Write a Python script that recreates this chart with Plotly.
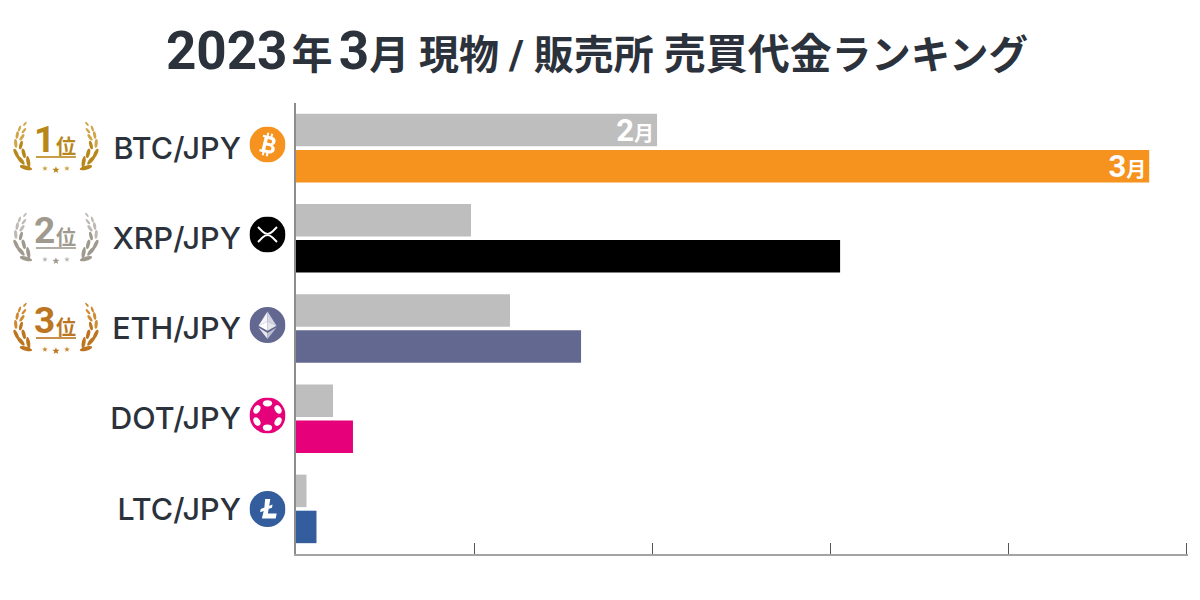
import base64, math
import plotly.graph_objects as go

categories = ["BTC/JPY", "XRP/JPY", "ETH/JPY", "DOT/JPY", "LTC/JPY"]
feb_values = [2.028, 0.983, 1.202, 0.208, 0.059]
mar_values = [4.792, 3.056, 1.601, 0.32, 0.115]
mar_colors = ["#f6921e", "#000000", "#636890", "#e6007a", "#345d9d"]
feb_labels = ['2<span style="font-size:20px">月</span>', "", "", "", ""]
mar_labels = ['3<span style="font-size:20px">月</span>', "", "", "", ""]
rank_labels = ["1", "2", "3"]

W, H = 1200, 600
L, T, B = 296, 103, 554
X_MAX = 5.01
R = L + 178 * X_MAX
INK = "#2b323b"
JP = "Noto Sans CJK JP"


def px(x):
    return (x - L) / (R - L)


def py(y):
    return (B - y) / (B - T)


def uri(svg):
    return "data:image/svg+xml;base64," + base64.b64encode(svg.encode()).decode()


def star(cx, cy, r):
    pts = []
    for i in range(10):
        a = -math.pi / 2 + i * math.pi / 5
        rr = r if i % 2 == 0 else r * 0.42
        pts.append(f"{cx + rr * math.cos(a):.2f},{cy + rr * math.sin(a):.2f}")
    return " ".join(pts)


LEAVES = [(14, 46.7, 15, 6.4, 2.1), (16.3, 40.7, 80, 5.8, 1.9), (8.7, 39, 50, 5.8, 2.0),
          (11.8, 32.3, 75, 4.8, 1.8), (4.2, 32.3, 65, 5.0, 1.8), (9, 24, 105, 4.4, 1.6),
          (3.8, 22.3, 85, 4.4, 1.6), (10, 16.3, 125, 3.8, 1.5), (5.3, 14, 100, 3.8, 1.5),
          (12, 9.7, 130, 3.2, 1.2), (7.6, 7.5, 110, 3.2, 1.2), (13, 2.8, 130, 2.6, 1.0)]


def laurel(dark, light):
    leaves = ""
    for i, (x, y, ang, a, b) in enumerate(LEAVES):
        c = dark if i < 6 else light
        leaves += f'<ellipse cx="{x}" cy="{y}" rx="{a}" ry="{b}" fill="{c}" transform="rotate({ang} {x} {y})"/>'
    return (
        '<svg xmlns="http://www.w3.org/2000/svg" width="180" height="112" viewBox="0 0 90 56">'
        f'<g>{leaves}</g><g transform="translate(88 0) scale(-1 1)">{leaves}</g>'
        f'<rect x="24" y="35.2" width="40" height="1.6" fill="{dark}"/>'
        f'<polygon points="{star(33, 47.5, 2.9)}" fill="{light}"/>'
        f'<polygon points="{star(44, 49, 3.8)}" fill="{dark}"/>'
        f'<polygon points="{star(55, 47.5, 2.9)}" fill="{light}"/>'
        "</svg>"
    )


def icon(body):
    return f'<svg xmlns="http://www.w3.org/2000/svg" width="144" height="144" viewBox="0 0 36 36">{body}</svg>'


BTC = icon(
    '<circle cx="18" cy="18" r="18" fill="#f6921e"/><g transform="rotate(14 18 18)" fill="#fff">'
    '<path fill-rule="evenodd" d="M11.5 9.5H20.5C26 9.5 26.5 16 23 17.5C28 18.6 27.5 26.5 20.5 26.5H11.5V24.3H13.5V11.7H11.5Z'
    'M17 12.6V16.3H20C22.4 16.3 22.4 12.6 20 12.6ZM17 19.3V23.4H20.5C23.6 23.4 23.6 19.3 20.5 19.3Z"/>'
    '<rect x="15" y="6.5" width="2" height="3.5"/><rect x="19" y="6.5" width="2" height="3.5"/>'
    '<rect x="15" y="26" width="2" height="3.5"/><rect x="19" y="26" width="2" height="3.5"/></g>'
)
XRP = icon(
    '<circle cx="18" cy="18" r="18" fill="#000"/><g fill="none" stroke="#fff" stroke-width="1.9">'
    '<path d="M8.5 10.5L13 15C16 18 20 18 23 15L27.5 10.5"/><path d="M8.5 25.5L13 21C16 18 20 18 23 21L27.5 25.5"/></g>'
)
ETH = icon(
    '<circle cx="18" cy="18" r="18" fill="#636890"/>'
    '<polygon points="18,4.5 9,18.7 18,14.5" fill="#f4f4f8"/><polygon points="18,4.5 27,18.7 18,14.5" fill="#d4d5e2"/>'
    '<polygon points="9,18.7 18,14.5 18,23.8" fill="#ffffff"/><polygon points="27,18.7 18,14.5 18,23.8" fill="#e6e6ee"/>'
    '<polygon points="9,20.6 18,26 18,32" fill="#e8e8f0"/><polygon points="27,20.6 18,26 18,32" fill="#bfc1d3"/>'
)
dot_holes = "".join(
    f'<ellipse cx="{18 + 12.2 * math.cos(math.radians(a)):.2f}" cy="{18 + 12.2 * math.sin(math.radians(a)):.2f}" '
    f'rx="4.6" ry="3.1" fill="#fff" transform="rotate({a + 90} {18 + 12.2 * math.cos(math.radians(a)):.2f} {18 + 12.2 * math.sin(math.radians(a)):.2f})"/>'
    for a in (-90, -30, 30, 90, 150, 210)
)
DOT = icon(f'<circle cx="18" cy="18" r="18" fill="#e6007a"/>{dot_holes}')
LTC = icon(
    '<circle cx="18" cy="18" r="18" fill="#345d9d"/>'
    '<path fill="#fff" d="M15.6 8H20.8L18.4 22.6H27.2L26.2 27.6H12.4L14.2 19.9L10.6 21.2L11.2 18L14.9 16.6Z"/>'
    '<path fill="#fff" d="M19.2 15L23 13.6L22.5 16.7L18.8 18.1Z"/>'
)

fig = go.Figure()
fig.add_bar(
    y=categories, x=feb_values, orientation="h", name="2月", marker=dict(color="#bebebe", line_width=0),
    text=feb_labels, textposition="inside", insidetextanchor="end", textangle=0, constraintext="none",
    textfont=dict(family=f"Roboto, {JP}", size=31, color="#ffffff", weight=700),
)
fig.add_bar(
    y=categories, x=mar_values, orientation="h", name="3月", marker=dict(color=mar_colors, line_width=0),
    text=mar_labels, textposition="inside", insidetextanchor="end", textangle=0, constraintext="none",
    textfont=dict(family=f"Roboto, {JP}", size=31, color="#ffffff", weight=700),
)

images = []
icon_rows = [(BTC, 144.5), (XRP, 234.5), (ETH, 325), (DOT, 415.5), (LTC, 509)]
for svg, cy in icon_rows:
    images.append(dict(source=uri(svg), xref="paper", yref="paper", x=px(249.5), y=py(cy - 18),
                       sizex=36 / (R - L), sizey=36 / (B - T), sizing="stretch", xanchor="left", yanchor="top", layer="above"))

badges = [(rank_labels[0], 121, "#b8871c", "#d0a54a"), (rank_labels[1], 212, "#a09a8e", "#bdbab4"), (rank_labels[2], 302, "#bb761f", "#cf8a35")]
annotations = []
for label, top, dark, light in badges:
    images.append(dict(source=uri(laurel(dark, light)), xref="paper", yref="paper", x=px(12), y=py(top),
                       sizex=90 / (R - L), sizey=56 / (B - T), sizing="stretch", xanchor="left", yanchor="top", layer="above"))
    annotations.append(dict(text=label, x=px(44.5), y=py(top + 18), xref="paper", yref="paper", showarrow=False,
                            xanchor="center", yanchor="middle",
                            font=dict(family="Roboto", size=37, color=dark, weight=700)))
    annotations.append(dict(text="位", x=px(66.5), y=py(top + 24), xref="paper", yref="paper", showarrow=False,
                            xanchor="center", yanchor="middle",
                            font=dict(family=JP, size=20, color=dark, weight=700)))

title_text = (
    '2023<span style="font-size:20px">\u2009</span><span style="font-size:41px">年</span><span style="font-size:30px">\u2009</span>3'
    '<span style="font-size:40px">月 現物 / 販売所 </span>'
    '<span style="font-size:42px">売買代金</span><span style="font-size:39.5px">ランキング</span>'
)

fig.update_layout(
    width=W, height=H, autosize=False, showlegend=False,
    paper_bgcolor="#ffffff", plot_bgcolor="#ffffff",
    margin=dict(l=L, r=W - R, t=T, b=H - B, pad=0),
    barmode="group", bargap=0.2, bargroupgap=0.1,
    title=dict(text=title_text, x=597 / W, xref="container", xanchor="center", y=1 - 50 / H, yref="container", yanchor="middle",
               font=dict(family=f"Roboto, {JP}", size=53, color=INK, weight=700)),
    xaxis=dict(range=[0, X_MAX], dtick=1, tick0=0, showgrid=False, zeroline=False, showticklabels=False,
               ticks="inside", ticklen=11, tickwidth=1, tickcolor="#555555", showline=True, linecolor="#a3a3a3", linewidth=2),
    yaxis=dict(type="category", autorange="reversed", showgrid=False, zeroline=False, ticks="", showline=True,
               linecolor="#8c8c8c", linewidth=2, ticklabelstandoff=47,
               tickfont=dict(family="Inter", size=30.5, color=INK, weight=500)),
    images=images, annotations=annotations,
)
fig.write_html("out.html", config=dict(displayModeBar=False), post_script="document.body.style.margin='0';")
